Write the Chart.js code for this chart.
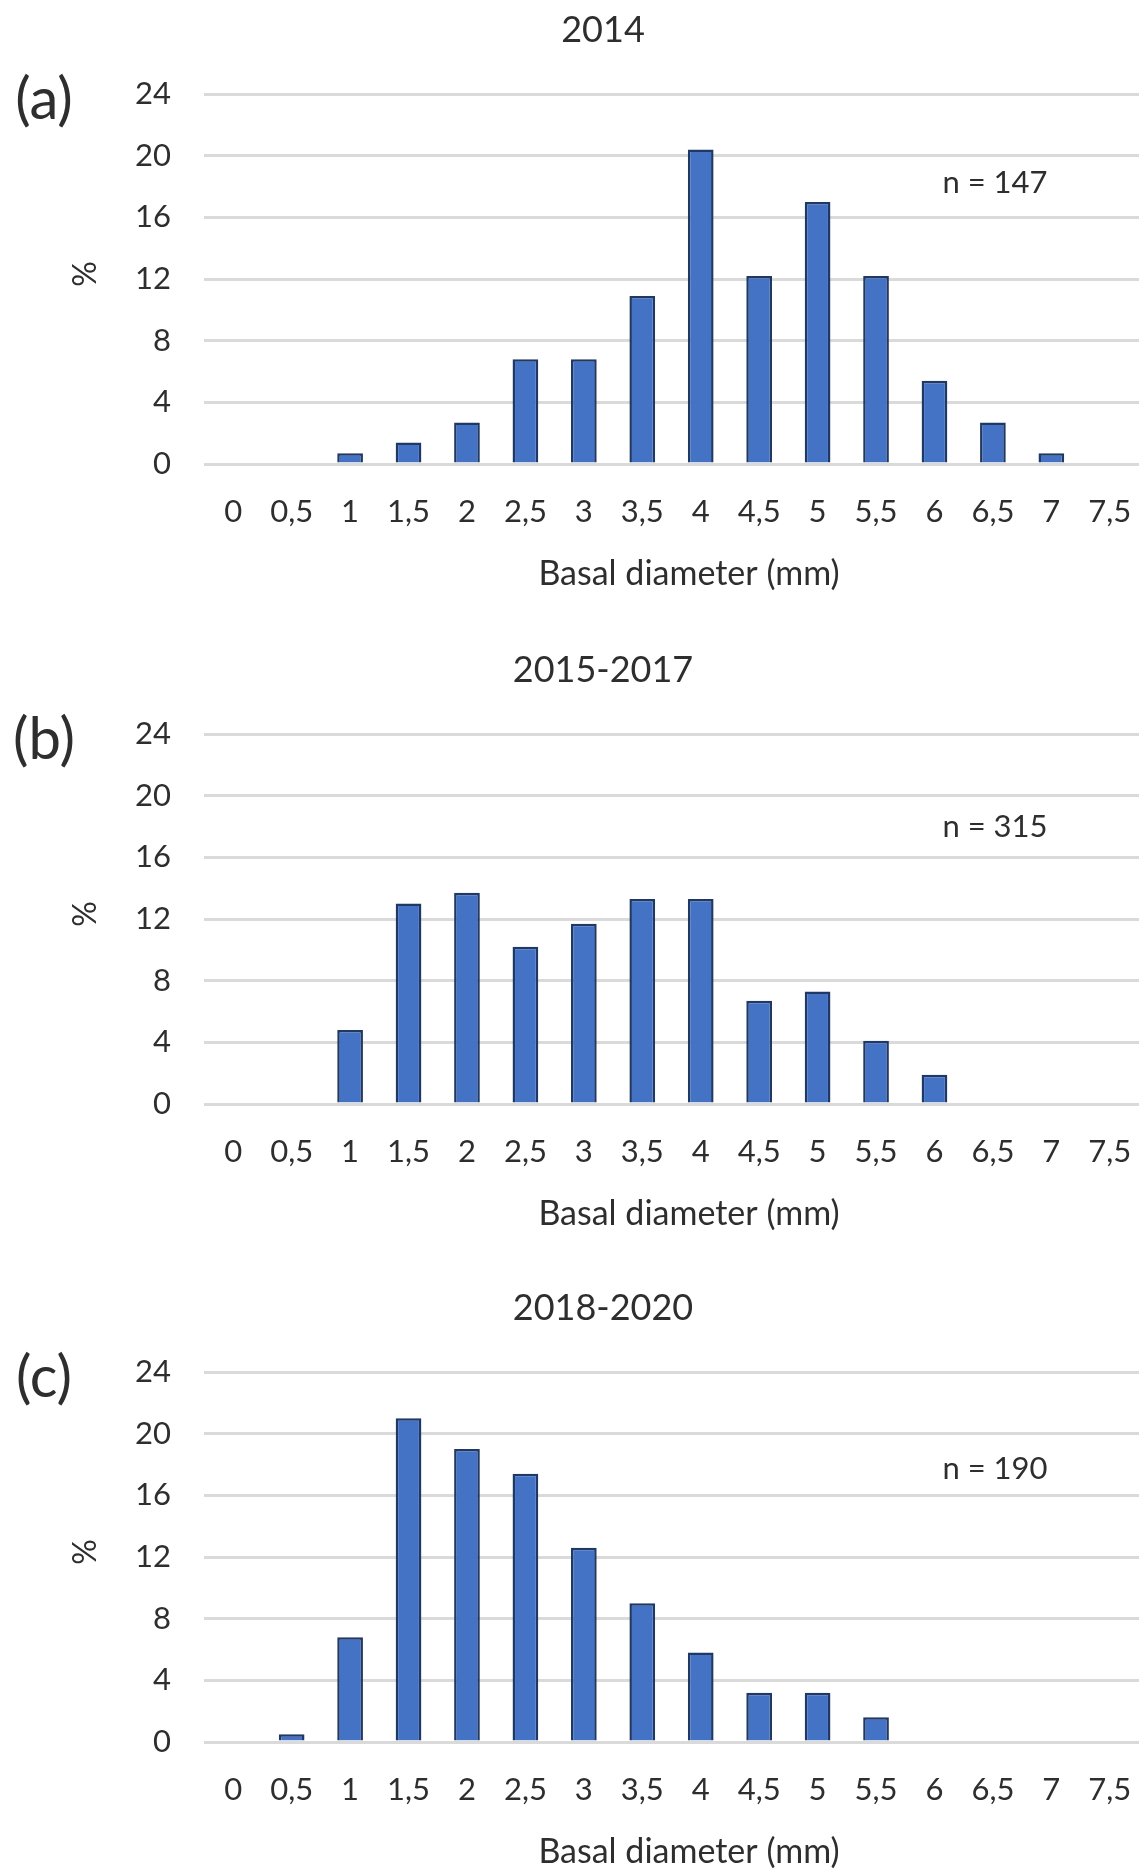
<!DOCTYPE html>
<html>
<head>
<meta charset="utf-8">
<script src="https://cdn.jsdelivr.net/npm/chart.js@4.4.1/dist/chart.umd.min.js"></script>
<style>
  html, body { margin: 0; padding: 0; background: #ffffff; overflow: hidden; }
  #wrap { position: relative; width: 1143px; height: 1871px; overflow: hidden; background: #fff; }
  .panel { position: absolute; left: 0; width: 1143px; height: 640px; }
  canvas { display: block; }
</style>
</head>
<body>
<div id="wrap">
  <div class="panel" style="top:0px"><canvas id="c0" width="1143" height="640"></canvas></div>
  <div class="panel" style="top:640px"><canvas id="c1" width="1143" height="640"></canvas></div>
  <div class="panel" style="top:1278px"><canvas id="c2" width="1143" height="640"></canvas></div>
</div>
<script>
// ---- data ----
const categories = ['0','0,5','1','1,5','2','2,5','3','3,5','4','4,5','5','5,5','6','6,5','7','7,5'];
const values2014     = [0, 0, 0.7, 1.4, 2.7, 6.8, 6.8, 10.9, 20.4, 12.2, 17.0, 12.2, 5.4, 2.7, 0.7, 0];
const values20152017 = [0, 0, 4.8, 13.0, 13.7, 10.2, 11.7, 13.3, 13.3, 6.7, 7.3, 4.1, 1.9, 0, 0, 0];
const values20182020 = [0, 0.5, 6.8, 21.0, 19.0, 17.4, 12.6, 9.0, 5.8, 3.2, 3.2, 1.6, 0, 0, 0, 0];
const panelTitles  = ['2014', '2015-2017', '2018-2020'];
const panelLetters = ['(a)', '(b)', '(c)'];
const nLabels      = ['n = 147', 'n = 315', 'n = 190'];
const yMin = 0, yMax = 24, yStep = 4;
const yAxisTitle = '%';
const xAxisTitle = 'Basal diameter (mm)';

const seriesList = [values2014, values20152017, values20182020];

const FONT = 'Lato, "Open Sans", sans-serif';
const TEXT = '#2e2e2e';

function annotations(idx) {
  return {
    id: 'annot' + idx,
    afterDraw(chart) {
      const ctx = chart.ctx;
      ctx.save();
      ctx.fillStyle = TEXT;
      ctx.textAlign = 'center';
      ctx.textBaseline = 'middle';
      ctx.font = '36px ' + FONT;
      ctx.fillText(panelTitles[idx], 603, 30);
      ctx.font = '58px ' + FONT;
      ctx.fillText(panelLetters[idx], 44, 100);
      ctx.font = '31px ' + FONT;
      ctx.fillText(nLabels[idx], 995, 183 + idx * 4);
      ctx.font = '34px ' + FONT;
      ctx.fillText(xAxisTitle, 689, 574);
      ctx.translate(86, 274);
      ctx.rotate(-Math.PI / 2);
      ctx.font = '32px ' + FONT;
      ctx.fillText(yAxisTitle, 0, 0);
      ctx.restore();
    }
  };
}

seriesList.forEach((vals, idx) => {
  new Chart(document.getElementById('c' + idx), {
    type: 'bar',
    data: {
      labels: categories,
      datasets: [{
        data: vals,
        backgroundColor: '#4472C4',
        borderColor: '#1F3864',
        borderWidth: 2.5,
        categoryPercentage: 1.0,
        barPercentage: 0.44
      }]
    },
    options: {
      responsive: false,
      animation: false,
      layout: { padding: { top: 94, right: 4, left: 0, bottom: 0 } },
      plugins: { legend: { display: false }, title: { display: false }, tooltip: { enabled: false } },
      scales: {
        x: {
          grid: { display: false, drawTicks: false },
          border: { display: false },
          ticks: { font: { family: FONT, size: 31 }, color: TEXT, padding: 29, maxRotation: 0, autoSkip: false },
          afterFit: s => { s.height = 176; s.paddingLeft = 0; s.paddingRight = 0; }
        },
        y: {
          min: yMin, max: yMax,
          ticks: { stepSize: yStep, font: { family: FONT, size: 31 }, color: TEXT, padding: 33 },
          grid: { color: '#dadada', lineWidth: 3, drawTicks: false },
          border: { display: false },
          afterFit: s => { s.width = 204; }
        }
      }
    },
    plugins: [annotations(idx)]
  });
});
</script>
</body>
</html>
